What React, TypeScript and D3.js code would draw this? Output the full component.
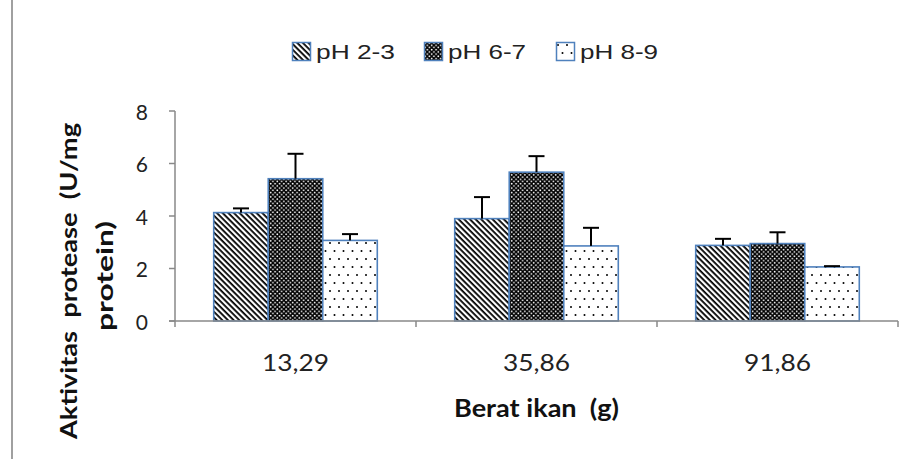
import * as React from 'react';
import * as d3 from 'd3';

const categories = ['13,29', '35,86', '91,86'];
const series = ['pH 2-3', 'pH 6-7', 'pH 8-9'];
const values = [
  [4.13, 5.42, 3.07],
  [3.9, 5.67, 2.86],
  [2.88, 2.95, 2.06],
];
const errors = [
  [0.16, 0.95, 0.24],
  [0.82, 0.61, 0.69],
  [0.25, 0.43, 0.03],
];
const yTicks = [0, 2, 4, 6, 8];

const W = 919;
const H = 459;
const axisColor = '#898989';
const barStroke = '#4f81bd';
const patternIds = ['pat-diag', 'pat-dense', 'pat-dots'];
const legendTextLen = [79, 78, 78];

export default function App() {
  const x0 = d3.scaleBand<string>().domain(categories).range([175, 898]).paddingInner(0).paddingOuter(0);
  const x1 = d3.scaleBand<string>().domain(series).range([0, x0.bandwidth()]).paddingInner(0).paddingOuter(0.71);
  const y = d3.scaleLinear().domain([0, 8]).range([321, 111]);
  const legendX = d3.scalePoint<string>().domain(series).range([292, 556]);

  const boundaries = categories.map(c => x0(c)! + x0.bandwidth());
  const midX = (x0.range()[0] + x0.range()[1]) / 2;

  return (
    <svg width={W} height={H} style={{position: 'absolute', left: 0, top: 0, background: '#fff'}}>
      <defs>
        <pattern id="pat-diag" width={4} height={4} patternUnits="userSpaceOnUse" patternTransform="rotate(45)">
          <rect width={4} height={4} fill="#fff" />
          <rect y={0} width={4} height={1.8} fill="#000" />
        </pattern>
        <pattern id="pat-dense" width={4.4} height={4.4} patternUnits="userSpaceOnUse">
          <rect width={4.4} height={4.4} fill="#000" />
          <circle cx={1.1} cy={1.1} r={0.9} fill="#fff" />
          <circle cx={3.3} cy={3.3} r={0.9} fill="#fff" />
        </pattern>
        <pattern id="pat-dots" width={9} height={16} patternUnits="userSpaceOnUse">
          <rect width={9} height={16} fill="#fff" />
          <circle cx={2} cy={3} r={1} fill="#000" />
          <circle cx={6.5} cy={11} r={1} fill="#000" />
        </pattern>
      </defs>

      <line x1={12} x2={12} y1={0} y2={H} stroke="#a0a0a0" strokeWidth={2} />

      {/* legend */}
      {series.map((s, i) => (
        <g key={s} transform={`translate(${legendX(s)},42)`}>
          <rect x={0.5} y={0.5} width={18} height={18} fill={`url(#${patternIds[i]})`} stroke={barStroke} strokeWidth={1.5} />
          <text x={24} y={17} fontFamily="Liberation Sans, Arial, sans-serif" fontSize={21} fill="#222"
            textLength={legendTextLen[i]} lengthAdjust="spacingAndGlyphs">{s}</text>
        </g>
      ))}

      {/* bars */}
      {categories.map((c, ci) => (
        <g key={c} transform={`translate(${x0(c)},0)`}>
          {series.map((s, si) => {
            const v = values[ci][si];
            const e = errors[ci][si];
            const bx = x1(s)!;
            const cx = bx + x1.bandwidth() / 2;
            return (
              <g key={s}>
                <rect x={bx} y={y(v)} width={x1.bandwidth()} height={y(0) - y(v)}
                  fill={`url(#${patternIds[si]})`} stroke={barStroke} strokeWidth={1.6} />
                <line x1={cx} x2={cx} y1={y(v)} y2={y(v + e)} stroke="#000" strokeWidth={2} />
                <line x1={cx - 8} x2={cx + 8} y1={y(v + e)} y2={y(v + e)} stroke="#000" strokeWidth={2} />
              </g>
            );
          })}
        </g>
      ))}

      {/* y axis */}
      <line x1={175} x2={175} y1={y(8)} y2={y(0) + 6} stroke={axisColor} strokeWidth={1.5} />
      {yTicks.map(t => (
        <g key={t}>
          <line x1={169} x2={175} y1={y(t)} y2={y(t)} stroke={axisColor} strokeWidth={1.5} />
          <text x={148} y={y(t)} textAnchor="end" dominantBaseline="central" fontFamily="Lato, sans-serif"
            fontSize={21} fill="#222">{t}</text>
        </g>
      ))}

      {/* x axis */}
      <line x1={169} x2={898} y1={y(0)} y2={y(0)} stroke={axisColor} strokeWidth={1.5} />
      {boundaries.map((b, i) => (
        <line key={i} x1={b} x2={b} y1={y(0)} y2={y(0) + 6} stroke={axisColor} strokeWidth={1.5} />
      ))}
      {categories.map(c => (
        <text key={c} x={x0(c)! + x0.bandwidth() / 2} y={371} textAnchor="middle" fontFamily="Lato, sans-serif"
          fontSize={23} fill="#222" textLength={67} lengthAdjust="spacingAndGlyphs">{c}</text>
      ))}

      <text x={midX} y={417} textAnchor="middle" fontFamily="Lato, sans-serif" fontWeight="bold" fontSize={25}
        fill="#111" textLength={165} lengthAdjust="spacingAndGlyphs" style={{whiteSpace: 'pre'}}>
        {'Berat ikan  (g)'}
      </text>

      <text transform="translate(77,281) rotate(-90)" textAnchor="middle" fontFamily="Lato, sans-serif"
        fontWeight="bold" fontSize={22} fill="#111" textLength={316} lengthAdjust="spacingAndGlyphs"
        style={{whiteSpace: 'pre'}}>
        {'Aktivitas  protease  (U/mg'}
      </text>
      <text transform="translate(113,276) rotate(-90)" textAnchor="middle" fontFamily="Lato, sans-serif"
        fontWeight="bold" fontSize={22} fill="#111" textLength={110} lengthAdjust="spacingAndGlyphs">
        {'protein)'}
      </text>
    </svg>
  );
}
